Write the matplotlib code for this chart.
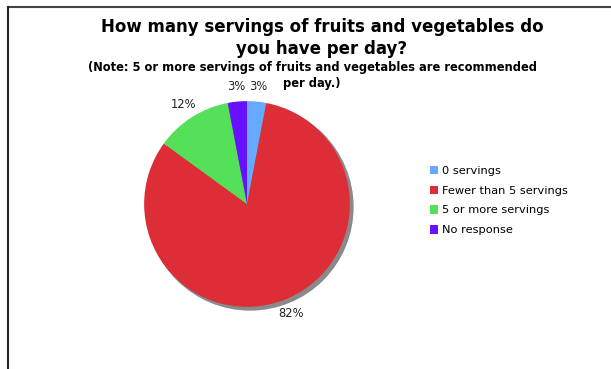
import matplotlib
matplotlib.use("Agg")
import matplotlib.pyplot as plt
from matplotlib.lines import Line2D
from matplotlib.patches import Circle

# data
categories = ["0 servings", "Fewer than 5 servings", "5 or more servings", "No response"]
shares = [3, 82, 12, 3]
colors = ["#66aaff", "#dd2d36", "#55e05a", "#6611ff"]

title = "How many servings of fruits and vegetables do\nyou have per day?"
note_lines = ["(Note: 5 or more servings of fruits and vegetables are recommended",
              "per day.)"]

W, H = 611, 369
fig = plt.figure(figsize=(W / 100, H / 100), dpi=100)
fig.patch.set_facecolor("white")

# outer frame (top and left edge only visible)
fig.add_artist(Line2D([8 / W, 1], [1 - 7 / H, 1 - 7 / H], transform=fig.transFigure,
                      color="#444444", lw=1.5))
fig.add_artist(Line2D([8 / W, 8 / W], [0, 1 - 7 / H], transform=fig.transFigure,
                      color="#222222", lw=1.5))

fig.text(322 / W, 1 - 38 / H, title, ha="center", va="center", fontsize=12,
         fontweight="bold", linespacing=1.3)
# note written line by line so the short second line keeps a tight box
for i, line in enumerate(note_lines):
    fig.text(312 / W, 1 - (68 + 15 * i) / H, line, ha="center", va="center",
             fontsize=8.3, fontweight="bold")

ax = fig.add_axes([(144 - 5) / W, 1 - (307 + 5) / H, 216 / W, 216 / H])
ax.add_patch(Circle((0.03, -0.03), 1.0, color="#8a8a8a", zorder=0))
wedges, _, autotexts = ax.pie(shares, colors=colors, startangle=90, counterclock=False,
                              radius=1.0, autopct="%d%%", pctdistance=1.15,
                              wedgeprops=dict(linewidth=0, zorder=1),
                              textprops=dict(fontsize=8.3, color="#222222"))
ax.set_xlim(-1.05, 1.05)
ax.set_ylim(-1.05, 1.05)
ax.set_aspect("equal")
ax.axis("off")

fig.legend(wedges, categories, loc="upper left", bbox_to_anchor=(424 / W, 1 - 160 / H),
           frameon=False, fontsize=8.2, handlelength=0.75, handleheight=0.75,
           handletextpad=0.3, labelspacing=0.85, borderpad=0)

fig.savefig("out.png", dpi=100)
